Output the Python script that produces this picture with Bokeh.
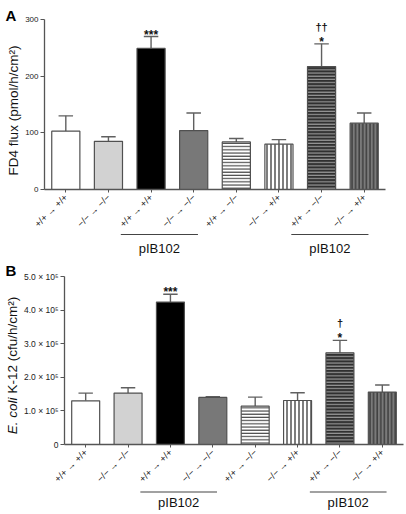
import math
from bokeh.plotting import figure
from bokeh.layouts import column
from bokeh.models import Range1d, FixedTicker, Label, Arrow, ColumnDataSource, LinearAxis
from bokeh.core.properties import value
from bokeh.embed import file_html
from bokeh.resources import INLINE

# ---------------- data ----------------
x_labels = ["+/+ → +/+", "−/− → −/−", "+/+ → +/+", "−/− → −/−",
            "+/+ → −/−", "−/− → +/+", "+/+ → −/−", "−/− → +/+"]
fd4_mean = [103, 85, 249, 104, 84, 80, 217, 117]
fd4_upper = [130, 93, 270, 135, 90, 88, 257, 135]
ecoli_mean = [1.30e5, 1.53e5, 4.24e5, 1.40e5, 1.14e5, 1.31e5, 2.73e5, 1.56e5]
ecoli_upper = [1.53e5, 1.69e5, 4.47e5, 1.42e5, 1.41e5, 1.54e5, 3.10e5, 1.77e5]
stars = ["", "", "***", "", "", "", "*", ""]
daggers_fd4 = ["", "", "", "", "", "", "††", ""]
daggers_ecoli = ["", "", "", "", "", "", "†", ""]
group_name = "pIB102"
group_first = [2, 6]
group_last = [3, 7]
fd4_ticks = [0, 100, 200, 300]
ecoli_ticks = [0, 100000, 200000, 300000, 400000, 500000]
ecoli_tick_labels = ["0", "1.0 × 10⁵", "2.0 × 10⁵", "3.0 × 10⁵", "4.0 × 10⁵", "5.0 × 10⁵"]

# ---------------- styles ----------------
fills = ["#ffffff", "#d2d2d2", "#000000", "#787878", "#ffffff", "#ffffff", "#303030", "#7a7a7a"]
hatches = [" ", " ", " ", " ", "horizontal_line", "vertical_line", "horizontal_line", "vertical_line"]
hatch_cols = ["#000000", "#000000", "#000000", "#000000", "#3a3a3a", "#111111", "#a0a0a0", "#2a2a2a"]
hatch_scales = [3, 3, 3, 3, 3.2, 4.0, 3.2, 3.6]
FONT = "Liberation Sans"
EDGE = "#505050"
AXC = "#555555"


def make_panel(letter, means, uppers, ymax, ticks, tick_labels, tick_font, daggers,
               w, h, bl, br, bt, bb, group_line_px, group_text_px, letter_top_px):
    """Frame covers the whole canvas; axes sit at fixed locations inside it."""
    n = len(means)
    xs = list(range(n))
    fw = w - bl - br
    fh = h - bt - bb
    cx = n / fw            # category units per px
    cy = ymax / fh         # data units per px
    p = figure(width=w, height=h,
               x_range=Range1d(-0.5 - bl * cx, n - 0.5 + br * cx),
               y_range=Range1d(-bb * cy, ymax + bt * cy),
               x_axis_type=None, y_axis_type=None,
               output_backend="svg", toolbar_location=None, tools="",
               min_border=0)
    p.outline_line_color = None
    p.grid.visible = False
    p.background_fill_color = "white"
    p.border_fill_color = "white"

    src = ColumnDataSource(dict(x=xs, top=means, up=uppers, fill=fills, hatch=hatches,
                                hcol=hatch_cols, hsc=hatch_scales,
                                cl=[x - 0.17 for x in xs], cr=[x + 0.17 for x in xs],
                                star=stars, dag=daggers))
    p.segment(x0="x", y0="top", x1="x", y1="up", source=src, line_color="#606060", line_width=1.4)
    p.segment(x0="cl", y0="up", x1="cr", y1="up", source=src, line_color="#606060", line_width=1.4)
    p.vbar(x="x", top="top", bottom=0, width=0.66, source=src, fill_color="fill",
           line_color=EDGE, line_width=1.2, hatch_pattern="hatch", hatch_color="hcol",
           hatch_scale="hsc", hatch_weight=1.1)
    p.text(x="x", y="up", text="star", source=src, text_align="center", text_baseline="middle",
           y_offset=-2, text_font=value(FONT), text_font_size="12px", text_font_style="bold",
           text_color="#111111")
    p.text(x="x", y="up", text="dag", source=src, text_align="center", text_baseline="middle",
           y_offset=-17, text_font=value(FONT), text_font_size="11px", text_font_style="bold",
           text_color="#111111")

    # x axis at y = 0
    xa = LinearAxis(fixed_location=0, bounds=(-0.5, n - 0.5))
    xa.ticker = FixedTicker(ticks=xs)
    xa.major_label_overrides = {i: s for i, s in enumerate(x_labels)}
    xa.major_label_orientation = math.pi / 4
    xa.major_label_text_font = FONT
    xa.major_label_text_font_size = "9.5px"
    xa.major_label_text_color = "#222222"
    xa.major_label_standoff = 3
    xa.major_tick_out = 3
    xa.major_tick_in = 0
    xa.minor_tick_line_color = None
    xa.axis_line_color = AXC
    xa.axis_line_width = 1.3
    xa.major_tick_line_color = AXC
    p.add_layout(xa, "below")

    # y axis at x = -0.5
    ya = LinearAxis(fixed_location=-0.5, bounds=(0, ymax))
    ya.ticker = FixedTicker(ticks=ticks)
    if tick_labels is not None:
        ya.major_label_overrides = {t: s for t, s in zip(ticks, tick_labels)}
    ya.major_label_text_font = FONT
    ya.major_label_text_font_size = tick_font
    ya.major_label_text_color = "#222222"
    ya.major_label_standoff = 2
    ya.major_tick_out = 4
    ya.major_tick_in = 0
    ya.minor_tick_line_color = None
    ya.axis_line_color = AXC
    ya.axis_line_width = 1.3
    ya.major_tick_line_color = AXC
    p.add_layout(ya, "left")

    # group lines and labels (below the axis)
    line_y = -group_line_px * cy
    text_y = -group_text_px * cy
    gx0 = [f - 0.71 for f in group_first]
    gx1 = [l + 0.1 for l in group_last]
    gsrc = ColumnDataSource(dict(x0=gx0, x1=gx1, y=[line_y] * len(group_first)))
    p.add_layout(Arrow(end=None, source=gsrc, x_start="x0", y_start="y", x_end="x1", y_end="y",
                       line_color="#444444", line_width=1.1))
    for a, b in zip(gx0, gx1):
        p.add_layout(Label(x=(a + b) / 2, y=text_y, text=group_name, text_align="center",
                           text_baseline="middle", text_font=FONT, text_font_size="13px",
                           text_color="#111111"))

    # panel letter
    p.add_layout(Label(x=-0.5 - (bl - 5) * cx, y=ymax + (bt - letter_top_px) * cy, text=letter,
                       text_align="left", text_baseline="top", text_font=FONT,
                       text_font_size="15px", text_font_style="bold", text_color="black"))
    return p, cx, cy


# Panel A: canvas 404 x 258, axis origin at (44, 189)
pA, ax_px, ay_px = make_panel("A", fd4_mean, fd4_upper, 300, fd4_ticks, None, "8px", daggers_fd4,
                              404, 258, 44, 19, 19, 69, 45, 59, 6)
pA.add_layout(Label(x=-0.5 - 31 * ax_px, y=79 * ay_px, text="FD4 flux (pmol/h/cm²)",
                    angle=math.pi / 2, text_align="center", text_baseline="middle",
                    text_font=FONT, text_font_size="13.5px", text_color="#111111"))

# Panel B: canvas 404 x 254 (starts at y 258), axis origin at (64, 444)
pB, bx_px, by_px = make_panel("B", ecoli_mean, ecoli_upper, 500000, ecoli_ticks, ecoli_tick_labels,
                              "8.5px", daggers_ecoli, 404, 254, 64, 1, 18, 68, 47.5, 58, 3)
pB.add_layout(Label(x=-0.5 - 52 * bx_px, y=47 * by_px, text="E. coli",
                    angle=math.pi / 2, text_align="right", text_baseline="middle",
                    text_font=FONT, text_font_size="13.5px", text_font_style="italic",
                    text_color="#111111"))
pB.add_layout(Label(x=-0.5 - 52 * bx_px, y=51 * by_px, text="K-12 (cfu/h/cm²)",
                    angle=math.pi / 2, text_align="left", text_baseline="middle",
                    text_font=FONT, text_font_size="13.5px", text_color="#111111"))

layout = column(pA, pB, spacing=0)
open("out.html", "w").write(file_html(layout, INLINE))
